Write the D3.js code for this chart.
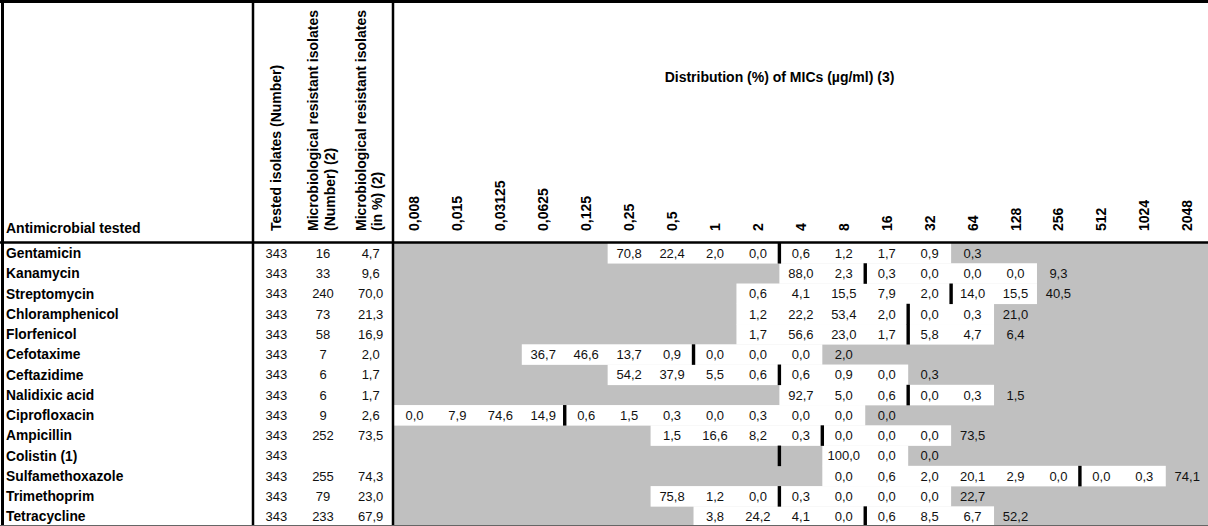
<!DOCTYPE html>
<html>
<head>
<meta charset="utf-8">
<script src="https://cdn.jsdelivr.net/npm/d3@7"></script>
<style>
  html, body { margin: 0; padding: 0; background: #fff; }
  svg { display: block; font-family: "Liberation Sans", Arial, sans-serif; }
</style>
</head>
<body>
<svg id="chart" width="1208" height="526"></svg>
<script>
const antimicrobials = ["Gentamicin","Kanamycin","Streptomycin","Chloramphenicol","Florfenicol","Cefotaxime","Ceftazidime","Nalidixic acid","Ciprofloxacin","Ampicillin","Colistin (1)","Sulfamethoxazole","Trimethoprim","Tetracycline"];
const micLabels = ["0,008","0,015","0,03125","0,0625","0,125","0,25","0,5","1","2","4","8","16","32","64","128","256","512","1024","2048"];
const tested = [343,343,343,343,343,343,343,343,343,343,343,343,343,343];
const resistantN = [16,33,240,73,58,7,6,6,9,252,null,255,79,233];
const resistantPct = [4.7,9.6,70.0,21.3,16.9,2.0,1.7,1.7,2.6,73.5,null,74.3,23.0,67.9];
const _ = null;
const distribution = [
  [_,_,_,_,_,70.8,22.4,2.0,0.0,0.6,1.2,1.7,0.9,0.3,_,_,_,_,_],
  [_,_,_,_,_,_,_,_,_,88.0,2.3,0.3,0.0,0.0,0.0,9.3,_,_,_],
  [_,_,_,_,_,_,_,_,0.6,4.1,15.5,7.9,2.0,14.0,15.5,40.5,_,_,_],
  [_,_,_,_,_,_,_,_,1.2,22.2,53.4,2.0,0.0,0.3,21.0,_,_,_,_],
  [_,_,_,_,_,_,_,_,1.7,56.6,23.0,1.7,5.8,4.7,6.4,_,_,_,_],
  [_,_,_,36.7,46.6,13.7,0.9,0.0,0.0,0.0,2.0,_,_,_,_,_,_,_,_],
  [_,_,_,_,_,54.2,37.9,5.5,0.6,0.6,0.9,0.0,0.3,_,_,_,_,_,_],
  [_,_,_,_,_,_,_,_,_,92.7,5.0,0.6,0.0,0.3,1.5,_,_,_,_],
  [0.0,7.9,74.6,14.9,0.6,1.5,0.3,0.0,0.3,0.0,0.0,0.0,_,_,_,_,_,_,_],
  [_,_,_,_,_,_,1.5,16.6,8.2,0.3,0.0,0.0,0.0,73.5,_,_,_,_,_],
  [_,_,_,_,_,_,_,_,_,_,100.0,0.0,0.0,_,_,_,_,_,_],
  [_,_,_,_,_,_,_,_,_,_,0.0,0.6,2.0,20.1,2.9,0.0,0.0,0.3,74.1],
  [_,_,_,_,_,_,75.8,1.2,0.0,0.3,0.0,0.0,0.0,22.7,_,_,_,_,_],
  [_,_,_,_,_,_,_,3.8,24.2,4.1,0.0,0.6,8.5,6.7,52.2,_,_,_,_]
];
// tested range (white) first/last MIC index per row
const testedFrom = [5,9,8,8,8,3,5,9,0,6,10,10,6,7];
const testedTo   = [12,14,14,13,13,9,11,13,10,12,11,17,12,13];
// breakpoint: boundary before this MIC index
const breakpoint = [9,11,13,12,12,7,9,12,4,10,9,16,9,11];
const fixedCols = ["Tested isolates (Number)","Microbiological resistant isolates|(Number) (2)","Microbiological resistant isolates|(in %) (2)"];

const fmt = v => v == null ? "" : d3.format(".1f")(v).replace(".", ",");

const svg = d3.select("#chart");
const W = 1208, H = 526;
const headerBottom = 242.5;

const y = d3.scaleBand().domain(antimicrobials).range([243, 526.6]);
const xMic = d3.scaleBand().domain(micLabels).range([393, 1208.7]);
const xFix = d3.scaleBand().domain(fixedCols).range([253, 393]);

const rows = antimicrobials.map((name, i) => ({name, i}));

// grey MIC area
svg.append("rect").attr("x", xMic.range()[0]).attr("y", y.range()[0])
  .attr("width", xMic.range()[1] - xMic.range()[0]).attr("height", H - y.range()[0])
  .attr("fill", "#c0c0c0");

// white tested ranges
svg.append("g").selectAll("rect").data(rows).join("rect")
  .attr("x", d => xMic(micLabels[testedFrom[d.i]]))
  .attr("y", d => y(d.name))
  .attr("width", d => xMic(micLabels[testedTo[d.i]]) + xMic.bandwidth() - xMic(micLabels[testedFrom[d.i]]))
  .attr("height", y.bandwidth() + 0.3)
  .attr("fill", "#fff");

// breakpoint bars
svg.append("g").selectAll("rect").data(rows).join("rect")
  .attr("x", d => xMic(micLabels[breakpoint[d.i]]) - 1.7)
  .attr("y", d => y(d.name))
  .attr("width", 3.4)
  .attr("height", y.bandwidth() + 0.3)
  .attr("fill", "#000");

// row labels
svg.append("g").selectAll("text").data(rows).join("text")
  .attr("x", 6)
  .attr("y", d => y(d.name) + y.bandwidth() / 2 + 4.9)
  .attr("font-size", 13.8).attr("font-weight", "bold")
  .text(d => d.name);

// fixed columns values
const fixVals = [tested.map(v => String(v)), resistantN.map(v => v == null ? "" : String(v)), resistantPct.map(fmt)];
fixedCols.forEach((c, ci) => {
  svg.append("g").selectAll("text").data(rows).join("text")
    .attr("x", xFix(c) + xFix.bandwidth() / 2 + (ci === 2 ? 1 : 0))
    .attr("y", d => y(d.name) + y.bandwidth() / 2 + 4.6)
    .attr("text-anchor", "middle").attr("font-size", 13).attr("fill", "#111")
    .text(d => fixVals[ci][d.i]);
});

// MIC distribution values
const cells = [];
distribution.forEach((row, i) => row.forEach((v, j) => { if (v != null) cells.push({i, j, v}); }));
svg.append("g").selectAll("text").data(cells).join("text")
  .attr("x", d => xMic(micLabels[d.j]) + xMic.bandwidth() / 2)
  .attr("y", d => y(antimicrobials[d.i]) + y.bandwidth() / 2 + 4.6)
  .attr("text-anchor", "middle").attr("font-size", 13).attr("fill", "#111")
  .text(d => fmt(d.v));

// header: antimicrobial tested
svg.append("text").attr("x", 6).attr("y", 233)
  .attr("font-size", 14).attr("font-weight", "bold").text("Antimicrobial tested");

// header: fixed rotated columns
const colShift = [0, -1.5, -0.5];
fixedCols.forEach((c, ci) => {
  const lines = c.split("|");
  const cx = xFix(c) + xFix.bandwidth() / 2;
  const lh = 16.6;
  lines.forEach((ln, k) => {
    const lx = cx + (k - (lines.length - 1) / 2) * lh + 5 + colShift[ci];
    svg.append("text")
      .attr("transform", `translate(${lx},231) rotate(-90)`)
      .attr("font-size", 14).attr("font-weight", "bold").text(ln);
  });
});

// header: MIC labels rotated
svg.append("g").selectAll("text").data(micLabels).join("text")
  .attr("transform", d => `translate(${xMic(d) + xMic.bandwidth() / 2 + 5},231) rotate(-90)`)
  .attr("font-size", 14).attr("font-weight", "bold").text(d => d);

// header: distribution title
svg.append("text").attr("x", 779.5).attr("y", 81.5).attr("text-anchor", "middle")
  .attr("font-size", 14).attr("font-weight", "bold").text("Distribution (%) of MICs (µg/ml) (3)");

// grid lines
const lines = svg.append("g").attr("stroke", "#000");
lines.append("line").attr("x1", 0).attr("x2", W).attr("y1", 1.5).attr("y2", 1.5).attr("stroke-width", 3);
lines.append("line").attr("x1", 2.5).attr("x2", 2.5).attr("y1", 0).attr("y2", H).attr("stroke-width", 3);
lines.append("line").attr("x1", 0).attr("x2", W).attr("y1", headerBottom).attr("y2", headerBottom).attr("stroke-width", 2.5);
[253, 393].forEach(x => lines.append("line").attr("x1", x).attr("x2", x).attr("y1", 0).attr("y2", H).attr("stroke-width", 2.5));
svg.append("line").attr("x1", 0).attr("x2", W).attr("y1", 525.5).attr("y2", 525.5).attr("stroke", "#666").attr("stroke-width", 1);
</script>
</body>
</html>
